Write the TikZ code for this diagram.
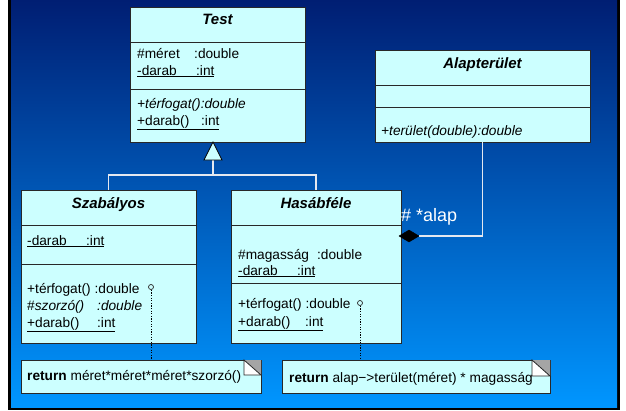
\documentclass[tikz,border=0pt]{standalone}
\usepackage{fontspec}
\setmainfont{Liberation Sans}

\definecolor{boxfill}{RGB}{204,255,255}
\definecolor{boxline}{RGB}{40,40,40}
\definecolor{wire}{RGB}{228,232,240}
\definecolor{bgtop}{RGB}{0,30,115}
\definecolor{bgbot}{RGB}{0,150,255}
\definecolor{foldgray}{RGB}{165,165,165}

\newcommand\bodyfont{\fontsize{13.7}{17}\selectfont}
\newcommand\headfont{\fontsize{15}{18}\selectfont\bfseries\itshape}
% member line: name padded to a fixed width, then its type
\newcommand\mem[3]{\makebox[#2pt][l]{#1}#3}

\tikzset{
  umlbox/.style={draw=boxline, fill=boxfill, line width=0.9pt, inner sep=0pt, outer sep=0pt},
  sepline/.style={draw=boxline, line width=0.9pt},
  txt/.style={anchor=base west, inner sep=0pt, font=\bodyfont, text=black},
  head/.style={anchor=base, inner sep=0pt, font=\headfont, text=black},
  wire/.style={draw=wire, line width=1.2pt},
  pin/.style={circle, draw=boxline, fill=boxfill, line width=0.7pt, minimum size=5pt, inner sep=0pt},
  dotwire/.style={draw=black, line width=0.8pt, dash pattern=on 1.2pt off 1.4pt},
}

\begin{document}
\begin{tikzpicture}[x=1pt,y=-1pt]
\useasboundingbox (0,0) rectangle (626,410);

% frame and background
\fill[white] (0,0) rectangle (626,410);
\fill[black] (8,0) rectangle (620,410);
\shade[top color=bgtop, bottom color=bgbot] (11,0) rectangle (617,407);

% class Test
\node[umlbox, minimum width=175pt, minimum height=135pt] (test) at (217.5,74.5) {};
\draw[sepline] (test.west |- 0,42) -- (test.east |- 0,42);
\draw[sepline] (test.west |- 0,89) -- (test.east |- 0,89);
\node[head] (testname) at (217.5,24.5) {Test};
\node[txt] (testa1) at (137,58) {\mem{\#méret}{57}{:double}};
\node[txt] (testa2) at (137,75) {\underline{\mem{-darab}{59}{:int}}};
\node[txt] (testo1) at (137,108) {\itshape +térfogat():double};
\node[txt] (testo2) at (137,125) {\underline{\mem{+darab()}{64}{:int}}};

% class Alapterület
\node[umlbox, minimum width=215pt, minimum height=92pt] (alap) at (482.5,96) {};
\draw[sepline] (alap.west |- 0,85) -- (alap.east |- 0,85);
\draw[sepline] (alap.west |- 0,107) -- (alap.east |- 0,107);
\node[head] (alapname) at (482.5,68.5) {Alapterület};
\node[txt] (alapo1) at (381,135) {\itshape +terület(double):double};

% class Szabályos
\node[umlbox, minimum width=175pt, minimum height=153pt] (szab) at (108.5,266.5) {};
\draw[sepline] (szab.west |- 0,225) -- (szab.east |- 0,225);
\draw[sepline] (szab.west |- 0,264) -- (szab.east |- 0,264);
\node[head] (szabname) at (108.5,208.5) {Szabályos};
\node[txt] (szaba1) at (27,245) {\underline{\mem{-darab}{59}{:int}}};
\node[txt] (szabo1) at (27,293) {+térfogat() :double};
\node[txt] (szabo2) at (27,310) {\mem{\#\textit{szorzó()}}{70}{\textit{:double}}};
\node[txt] (szabo3) at (27,327) {\underline{\mem{+darab()}{70}{:int}}};

% class Hasábféle
\node[umlbox, minimum width=170pt, minimum height=153pt] (hasab) at (316,266.5) {};
\draw[sepline] (hasab.west |- 0,225) -- (hasab.east |- 0,225);
\draw[sepline] (hasab.west |- 0,283) -- (hasab.east |- 0,283);
\node[head] (hasabname) at (316,208.5) {Hasábféle};
\node[txt] (hasaba1) at (238,259) {\mem{\#magasság}{79}{:double}};
\node[txt] (hasaba2) at (238,275) {\underline{\mem{-darab}{59}{:int}}};
\node[txt] (hasabo1) at (238,308) {+térfogat() :double};
\node[txt] (hasabo2) at (238,326) {\underline{\mem{+darab()}{67}{:int}}};

% notes with folded corner
\node[umlbox, minimum width=240pt, minimum height=33pt] (note1) at (141,376.5) {};
\fill[foldgray] (244,360) -- (261,360) -- (261,375) -- cycle;
\filldraw[fill=white, draw=boxline, line width=0.8pt] (244,360) -- (244,375) -- (261,375) -- cycle;
\node[txt] (note1txt) at (27,380) {\textbf{return} méret*méret*méret*szorzó()};

\node[umlbox, minimum width=268pt, minimum height=33pt] (note2) at (416,376.5) {};
\fill[foldgray] (532,360) -- (550,360) -- (550,376) -- cycle;
\filldraw[fill=white, draw=boxline, line width=0.8pt] (532,360) -- (532,376) -- (550,376) -- cycle;
\node[txt] (note2txt) at (289,382) {\textbf{return} alap−>terület(méret) * magasság};

% note anchors on the operations
\node[pin] (pin1) at (151,287) {};
\node[pin] (pin2) at (360,303) {};
\draw[dotwire] (pin1.south) -- (pin1 |- note1.north);
\draw[dotwire] (pin2.south) -- (pin2 |- note2.north);

% generalization Szabályos, Hasábféle -> Test
\coordinate (genapex) at (213,142);
\coordinate (genbase) at (213,160);
\coordinate (genjoin) at (213,175);
\draw[wire] (genbase) -- (genjoin);
\draw[wire] (szab.north) |- (genjoin) -| (hasab.north);
\filldraw[fill=boxfill, draw=black, line width=0.8pt] (genapex) -- ++(-9,18) -- ++(18,0) -- cycle;

% composition Hasábféle <>-- Alapterület
\coordinate (aggtip) at (419,236);
\draw[wire] (alap.south) |- (aggtip);
\filldraw[black] (399,236) -- (409,230) -- (aggtip) -- (409,242) -- cycle;
\node[anchor=west, inner sep=0pt, text=white, font=\fontsize{18}{20}\selectfont] (aggrole) at (401,217) {\# *alap};
\end{tikzpicture}
\end{document}
